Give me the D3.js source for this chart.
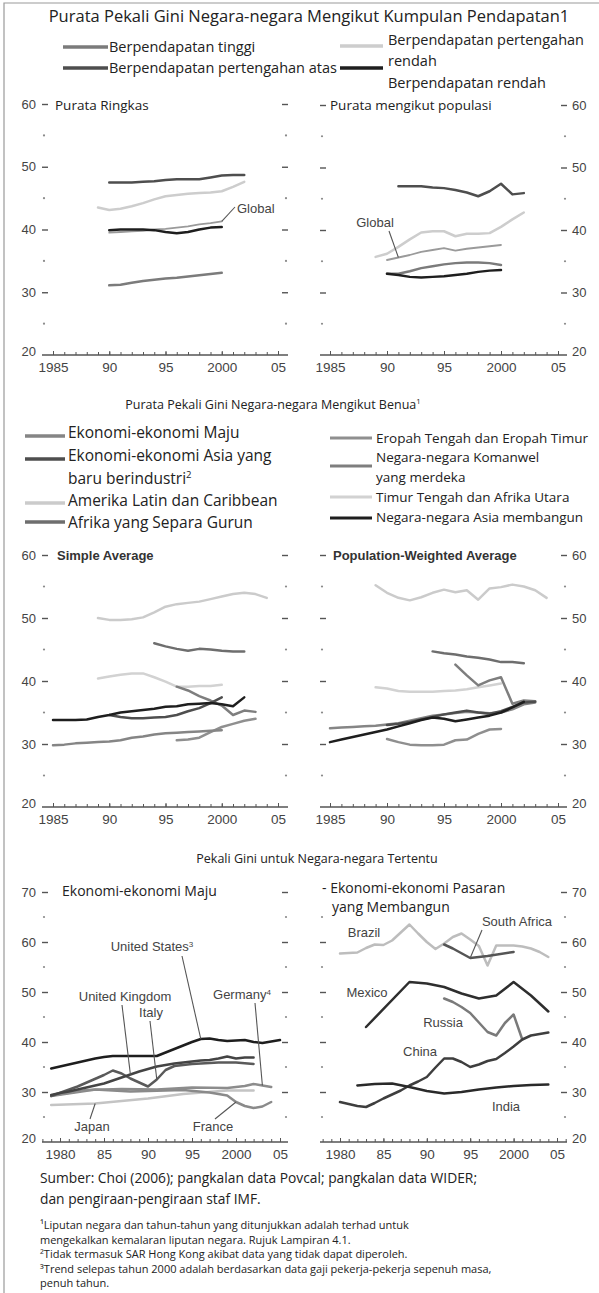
<!DOCTYPE html>
<html>
<head>
<meta charset="utf-8">
<script src="https://cdn.jsdelivr.net/npm/d3@7"></script>
<style>
  body { margin: 0; background: #fff; }
  svg { display: block; }
</style>
</head>
<body>
<svg id="chart" width="599" height="1293"></svg>
<script>
// ---- axis ticks / labels ----
const topTickYears = [1985, 1990, 1995, 2000, 2005];
const topTickLabels = ["1985", "90", "95", "2000", "05"];
const ctryTickYears = [1980, 1985, 1990, 1995, 2000, 2005];
const ctryTickLabels = ["1980", "85", "90", "95", "2000", "05"];
const giniMajor = [20, 30, 40, 50, 60];
const giniMinor = [25, 35, 45, 55];
const ctryMajor = [20, 30, 40, 50, 60, 70];
const ctryMinor = [25, 35, 45, 55, 65];

// ---- income groups, simple average ----
const incYears90_02 = [1990, 1991, 1992, 1993, 1994, 1995, 1996, 1997, 1998, 1999, 2000, 2001, 2002];
const incYears89_02 = [1989, 1990, 1991, 1992, 1993, 1994, 1995, 1996, 1997, 1998, 1999, 2000, 2001, 2002];
const incYears90_00 = [1990, 1991, 1992, 1993, 1994, 1995, 1996, 1997, 1998, 1999, 2000];
const incYears91_02 = [1991, 1992, 1993, 1994, 1995, 1996, 1997, 1998, 1999, 2000, 2001, 2002];
const upperMidS = [47.5, 47.5, 47.5, 47.6, 47.7, 47.9, 48.0, 48.0, 48.0, 48.3, 48.6, 48.7, 48.7];
const lowerMidS = [43.5, 43.1, 43.3, 43.7, 44.2, 44.8, 45.3, 45.5, 45.7, 45.8, 45.9, 46.1, 46.8, 47.6];
const lowIncS = [39.9, 40.0, 40.0, 40.0, 39.9, 39.6, 39.4, 39.6, 40.0, 40.3, 40.4];
const globalS = [39.5, 39.6, 39.7, 39.8, 40.0, 40.1, 40.3, 40.5, 40.8, 41.0, 41.3];
const highIncS = [31.1, 31.2, 31.5, 31.8, 32.0, 32.2, 32.3, 32.5, 32.7, 32.9, 33.1];
// ---- income groups, population weighted ----
const upperMidP = [47.0, 47.0, 47.0, 46.8, 46.7, 46.4, 46.0, 45.4, 46.2, 47.4, 45.7, 45.9];
const lowerMidP = [35.7, 36.2, 37.3, 38.5, 39.6, 39.8, 39.8, 39.0, 39.4, 39.4, 39.5, 40.5, 41.7, 42.8];
const globalP = [35.2, 35.6, 36.0, 36.5, 36.8, 37.1, 36.7, 37.0, 37.2, 37.4, 37.6];
const highIncP = [33.0, 33.0, 33.4, 33.9, 34.2, 34.5, 34.7, 34.8, 34.8, 34.7, 34.4];
const lowIncP = [33.0, 32.8, 32.5, 32.4, 32.5, 32.6, 32.8, 33.0, 33.3, 33.5, 33.6];

// ---- regions ----
const regYears85_00 = [1985, 1986, 1987, 1988, 1989, 1990, 1991, 1992, 1993, 1994, 1995, 1996, 1997, 1998, 1999, 2000];
const regYears85_02 = [1985, 1986, 1987, 1988, 1989, 1990, 1991, 1992, 1993, 1994, 1995, 1996, 1997, 1998, 1999, 2000, 2001, 2002];
const regYears85_03 = [1985, 1986, 1987, 1988, 1989, 1990, 1991, 1992, 1993, 1994, 1995, 1996, 1997, 1998, 1999, 2000, 2001, 2002, 2003];
const regYears89_04 = [1989, 1990, 1991, 1992, 1993, 1994, 1995, 1996, 1997, 1998, 1999, 2000, 2001, 2002, 2003, 2004];
const regYears89_00 = [1989, 1990, 1991, 1992, 1993, 1994, 1995, 1996, 1997, 1998, 1999, 2000];
const regYears94_02 = [1994, 1995, 1996, 1997, 1998, 1999, 2000, 2001, 2002];
const regYears96_03 = [1996, 1997, 1998, 1999, 2000, 2001, 2002, 2003];
const regYears90_00 = [1990, 1991, 1992, 1993, 1994, 1995, 1996, 1997, 1998, 1999, 2000];
const regYears90_03 = [1990, 1991, 1992, 1993, 1994, 1995, 1996, 1997, 1998, 1999, 2000, 2001, 2002, 2003];
// simple average
const advS = [29.8, 29.9, 30.1, 30.2, 30.3, 30.4, 30.6, 31.0, 31.2, 31.5, 31.7, 31.8, 31.9, 32.0, 32.1, 32.2];
const asiaS = [33.8, 33.8, 33.8, 33.9, 34.3, 34.6, 35.0, 35.2, 35.4, 35.6, 35.9, 36.0, 36.3, 36.4, 36.5, 36.3, 36.0, 37.4];
const nieS = [34.6, 34.3, 34.1, 34.1, 34.2, 34.3, 34.6, 35.2, 35.7, 36.5, 37.4];
const lacS = [50.0, 49.7, 49.7, 49.8, 50.1, 50.9, 51.8, 52.2, 52.4, 52.6, 53.0, 53.4, 53.8, 54.0, 53.8, 53.2];
const ssaS = [46.0, 45.5, 45.1, 44.8, 45.1, 45.0, 44.8, 44.7, 44.7];
const ceeS = [30.6, 30.7, 31.0, 31.9, 32.7, 33.2, 33.7, 34.0];
const cisS = [39.1, 38.5, 37.6, 36.9, 36.1, 34.6, 35.3, 35.1];
const menaS = [40.4, 40.7, 41.0, 41.2, 41.2, 40.6, 39.9, 39.1, 39.1, 39.2, 39.2, 39.4];
// population weighted
const advP = [32.5, 32.6, 32.7, 32.8, 32.9, 33.1, 33.3, 33.7, 34.1, 34.5, 34.7, 34.9, 35.1, 35.0, 34.9, 35.0, 35.5, 36.3, 36.6];
const asiaP = [30.3, 30.7, 31.1, 31.5, 31.9, 32.3, 32.8, 33.3, 33.8, 34.2, 34.0, 33.6, 33.9, 34.2, 34.5, 35.0, 35.8, 36.7];
const nieP = [33.0, 33.2, 33.5, 33.9, 34.3, 34.7, 35.0, 35.3, 35.0, 34.8, 35.2, 35.9, 36.6, 36.7];
const lacP = [55.2, 54.0, 53.2, 52.8, 53.3, 54.0, 54.5, 54.1, 54.4, 52.9, 54.7, 54.9, 55.3, 55.0, 54.4, 53.2];
const ssaP = [44.7, 44.4, 44.2, 43.9, 43.7, 43.4, 43.0, 43.0, 42.8];
const ceeP = [30.8, 30.3, 29.9, 29.8, 29.8, 29.9, 30.6, 30.7, 31.6, 32.3, 32.4];
const cisP = [42.6, 40.9, 39.3, 40.1, 40.6, 36.4, 36.9, 36.8];
const menaP = [39.0, 38.8, 38.4, 38.3, 38.3, 38.3, 38.4, 38.5, 38.7, 39.0, 39.3, 39.6];

// ---- selected countries: advanced ----
const usYears = [1979, 1980, 1981, 1982, 1983, 1984, 1985, 1986, 1987, 1988, 1989, 1990, 1991, 1992, 1993, 1994, 1995, 1996, 1997, 1998, 1999, 2000, 2001, 2002, 2003, 2004, 2005];
const usGini = [34.7, 35.1, 35.5, 35.9, 36.3, 36.7, 37.0, 37.2, 37.2, 37.2, 37.2, 37.2, 37.2, 37.9, 38.6, 39.3, 40.0, 40.6, 40.7, 40.4, 40.2, 40.3, 40.4, 40.0, 39.8, 40.1, 40.4];
const ukYears = [1979, 1980, 1981, 1982, 1983, 1984, 1985, 1986, 1987, 1988, 1989, 1990, 1991, 1992, 1993, 1994, 1995, 1996, 1997, 1998, 1999, 2000, 2001, 2002];
const ukGini = [29.4, 29.8, 30.1, 30.5, 30.9, 31.3, 31.7, 32.3, 32.9, 33.5, 34.1, 34.6, 35.1, 35.4, 35.7, 35.9, 36.1, 36.3, 36.4, 36.7, 37.1, 36.7, 36.9, 36.9];
const italyYears = [1979, 1982, 1985, 1986, 1987, 1988, 1989, 1990, 1991, 1992, 1993, 1995, 1998, 2000, 2002];
const italyGini = [29.2, 31.1, 33.4, 34.3, 33.7, 32.7, 31.9, 31.1, 32.5, 34.4, 35.2, 35.6, 35.9, 35.9, 35.6];
const germanyYears = [1979, 1983, 1987, 1991, 1995, 1999, 2001, 2002, 2003, 2004];
const germanyGini = [29.3, 30.4, 30.6, 30.5, 30.9, 30.8, 31.2, 31.6, 31.3, 31.0];
const franceYears = [1979, 1984, 1988, 1994, 1997, 1999, 2000, 2001, 2002, 2003, 2004];
const franceGini = [29.2, 30.5, 30.1, 30.4, 29.9, 29.3, 28.0, 27.2, 26.8, 27.1, 28.0];
const japanYears = [1979, 1984, 1990, 1994, 1999, 2002];
const japanGini = [27.4, 27.7, 28.7, 29.6, 30.3, 30.3];
// ---- selected countries: emerging ----
const brazilYears = [1980, 1981, 1982, 1983, 1984, 1985, 1986, 1987, 1988, 1989, 1990, 1991, 1992, 1993, 1994, 1995, 1996, 1997, 1998, 1999, 2000, 2001, 2002, 2003, 2004];
const brazilGini = [57.7, 57.8, 57.9, 58.8, 59.5, 59.4, 60.3, 61.9, 63.5, 61.7, 60.0, 58.6, 59.7, 61.0, 61.7, 60.5, 59.2, 55.3, 59.3, 59.3, 59.3, 59.1, 58.7, 58.0, 57.0];
const southAfricaYears = [1992, 1993, 1995, 1997, 2000];
const southAfricaGini = [59.5, 58.7, 56.8, 57.2, 58.0];
const mexicoYears = [1983, 1988, 1990, 1992, 1994, 1996, 1998, 2000, 2002, 2004];
const mexicoGini = [43.0, 52.0, 51.7, 51.0, 49.7, 48.7, 49.3, 52.0, 49.3, 46.1];
const russiaYears = [1992, 1993, 1994, 1995, 1996, 1997, 1998, 1999, 2000, 2001];
const russiaGini = [48.7, 48.0, 47.0, 45.8, 43.9, 42.0, 41.3, 43.8, 45.5, 40.5];
const chinaYears = [1980, 1981, 1982, 1983, 1984, 1985, 1986, 1987, 1988, 1989, 1990, 1991, 1992, 1993, 1994, 1995, 1996, 1997, 1998, 1999, 2000, 2001, 2002, 2003, 2004];
const chinaGini = [28.0, 27.6, 27.2, 27.0, 27.8, 28.7, 29.5, 30.3, 31.3, 32.1, 33.0, 34.9, 36.7, 36.7, 36.0, 35.0, 35.5, 36.2, 36.6, 37.8, 39.1, 40.5, 41.3, 41.6, 41.9];
const indiaYears = [1982, 1984, 1986, 1988, 1990, 1992, 1994, 1996, 1998, 2000, 2002, 2004];
const indiaGini = [31.3, 31.6, 31.7, 31.0, 30.2, 29.7, 30.0, 30.5, 30.9, 31.2, 31.4, 31.5];

// ---- colours (greyscale scan) ----
const cHigh = "#7b7b7b", cUpper = "#4e4e4e", cLower = "#cdcdcd", cLow = "#1e1e1e", cGlobal = "#9a9a9a";
const cAdv = "#858585", cNie = "#4e4e4e", cLac = "#cbcbcb", cSsa = "#6e6e6e", cCee = "#8f8f8f",
      cCis = "#7e7e7e", cMena = "#d2d2d2", cAsia = "#1e1e1e";

const FONT = '"Open Sans", "Noto Sans", sans-serif';
const AXFONT = '"Liberation Sans", Arial, sans-serif';
const svg = d3.select("#chart");

function txt(parent, str, x, y, size, opts) {
    opts = opts || {};
    return parent.append("text")
        .attr("x", x).attr("y", y)
        .attr("font-family", opts.family || FONT)
        .attr("font-size", size)
        .attr("font-weight", opts.weight || "normal")
        .attr("text-anchor", opts.anchor || "start")
        .attr("fill", opts.fill || "#222")
        .text(str);
}

function sup(t, s) {
    t.append("tspan").attr("baseline-shift", "super").attr("font-size", "62%").text(s);
    return t;
}

function drawPanel(p) {
    var g = svg.append("g");
    var x = d3.scaleLinear().domain(p.xDomain).range(p.xRange),
        y = d3.scaleLinear().domain(p.yDomain).range(p.yRange),
        base = y(p.yDomain[0]);

    // half-step dots on both sides
    g.selectAll("circle")
        .data(p.yMinor.flatMap(v => [[p.axisL + 2, v], [p.axisR - 2, v]]))
      .enter().append("circle")
        .attr("cx", d => d[0]).attr("cy", d => y(d[1]))
        .attr("r", 1.1).attr("fill", "#8a8a8a");

    var majors = p.yMajor.filter(v => v != p.yDomain[0]);
    var leftVals = p.skipTopLeft ? majors.slice(0, -1) : majors;
    var yl = g.append("g").attr("transform", "translate(" + (p.axisL + 6) + ",0)")
        .call(d3.axisLeft(y).tickValues(leftVals).tickSize(6).tickPadding(6)
            .tickFormat(p.labelSide == "left" ? d3.format("d") : ""));
    var yr = g.append("g").attr("transform", "translate(" + (p.axisR - 6) + ",0)")
        .call(d3.axisRight(y).tickValues(majors).tickSize(6).tickPadding(5)
            .tickFormat(p.labelSide == "right" ? d3.format("d") : ""));
    [yl, yr].forEach(a => {
        a.select(".domain").remove();
        a.selectAll("line").attr("stroke", "#555").attr("stroke-width", 1.4);
        a.selectAll("text").attr("font-family", AXFONT).attr("font-size", 13).attr("fill", "#444");
    });
    // the bottom value sits beside the baseline
    var lx = p.labelSide == "left" ? p.axisL - 6 : p.axisR + 5;
    txt(g, d3.format("d")(p.yDomain[0]), lx, base + 1, 13,
        { family: AXFONT, fill: "#444", anchor: p.labelSide == "left" ? "end" : "start" });

    // x axis
    g.append("line")
        .attr("x1", p.axisL).attr("x2", p.axisR).attr("y1", base).attr("y2", base)
        .attr("stroke", "#555").attr("stroke-width", 1.3);
    var years = d3.range(Math.ceil(x.invert(p.axisL)), Math.floor(x.invert(p.axisR)) + 1);
    var xm = g.append("g").attr("transform", "translate(0," + base + ")")
        .call(d3.axisBottom(x).tickValues(years).tickSizeInner(-3).tickSizeOuter(0).tickFormat(""));
    var xa = g.append("g").attr("transform", "translate(0," + base + ")")
        .call(d3.axisBottom(x).tickValues(p.tickYears).tickSizeInner(-4).tickSizeOuter(0).tickPadding(7)
            .tickFormat((d, i) => p.tickLabels[i]));
    [xm, xa].forEach(a => {
        a.select(".domain").remove();
        a.selectAll("line").attr("stroke", "#555");
    });
    xa.selectAll("text").attr("font-family", AXFONT).attr("font-size", 13.5).attr("fill", "#444");

    // series
    var line = d3.line();
    g.selectAll("path.series")
        .data(p.series)
      .enter().append("path")
        .attr("class", "series")
        .attr("fill", "none")
        .attr("stroke", d => d.color)
        .attr("stroke-width", d => d.width || 2.5)
        .attr("stroke-linejoin", "round")
        .attr("stroke-linecap", "round")
        .attr("d", d => line(d.years.map((yr, i) => [x(yr), y(d.values[i])])));

    // annotations
    (p.notes || []).forEach(n => {
        if (n.to) {
            var i = n.to.s.years.indexOf(n.to.year);
            g.append("line")
                .attr("x1", n.lx).attr("y1", n.ly)
                .attr("x2", x(n.to.year)).attr("y2", y(n.to.s.values[i]))
                .attr("stroke", "#555").attr("stroke-width", 1.1);
        }
        var t = txt(g, n.text, n.x, n.y, n.size || 13,
            { family: AXFONT, fill: "#444", anchor: n.anchor || "middle" });
        if (n.sup) sup(t, n.sup);
    });

    // panel titles
    (p.titles || []).forEach(t => {
        txt(g, t.text, t.x, t.y, t.size, { family: t.family, weight: t.weight, fill: t.fill || "#222" });
    });
}

// ---- frame ----
svg.append("path").attr("d", "M4,1293V3H599")
    .attr("fill", "none").attr("stroke", "#9a9a9a").attr("stroke-width", 1.2);

// ---- section 1: income groups ----
txt(svg, "Purata Pekali Gini Negara-negara Mengikut Kumpulan Pendapatan1", 309, 22, 16.5, { anchor: "middle" });

function legendLine(x1, x2, yy, color, w) {
    svg.append("line").attr("x1", x1).attr("x2", x2).attr("y1", yy).attr("y2", yy)
        .attr("stroke", color).attr("stroke-width", w || 3.5);
}
legendLine(63, 108, 47, cHigh);
txt(svg, "Berpendapatan tinggi", 109, 52, 14.5);
legendLine(63, 108, 68, cUpper);
txt(svg, "Berpendapatan pertengahan atas", 109, 73, 14.5);
legendLine(340, 383, 46, cLower);
txt(svg, "Berpendapatan pertengahan", 388, 45, 14.5);
txt(svg, "rendah", 388, 66, 14.5);
legendLine(340, 383, 68, cLow);
txt(svg, "Berpendapatan rendah", 388, 88, 14.5);

var sHighS = { years: incYears90_00, values: highIncS, color: cHigh },
    sGlobalS = { years: incYears90_00, values: globalS, color: cGlobal, width: 1.8 },
    sGlobalP = { years: incYears90_00, values: globalP, color: cGlobal, width: 1.8 };

drawPanel({
    xDomain: [1985, 2005], xRange: [53, 278], yDomain: [20, 60], yRange: [355, 104],
    axisL: 42, axisR: 288, labelSide: "left", yMajor: giniMajor, yMinor: giniMinor,
    tickYears: topTickYears, tickLabels: topTickLabels,
    series: [
        { years: incYears89_02, values: lowerMidS, color: cLower },
        sGlobalS,
        { years: incYears90_02, values: upperMidS, color: cUpper },
        { years: incYears90_00, values: lowIncS, color: cLow },
        sHighS
    ],
    notes: [{ text: "Global", x: 237, y: 213, anchor: "start", lx: 235, ly: 207, to: { s: sGlobalS, year: 2000 } }],
    titles: [{ text: "Purata Ringkas", x: 55, y: 110, size: 13.5 }]
});

drawPanel({
    xDomain: [1985, 2005], xRange: [330, 558], yDomain: [20, 60], yRange: [355, 105],
    axisL: 320, axisR: 567, labelSide: "right", yMajor: giniMajor, yMinor: giniMinor,
    tickYears: topTickYears, tickLabels: topTickLabels,
    series: [
        { years: incYears89_02, values: lowerMidP, color: cLower },
        sGlobalP,
        { years: incYears91_02, values: upperMidP, color: cUpper },
        { years: incYears90_00, values: highIncP, color: cHigh },
        { years: incYears90_00, values: lowIncP, color: cLow }
    ],
    notes: [{ text: "Global", x: 375, y: 227, lx: 389, ly: 231, to: { s: sGlobalP, year: 1991 } }],
    titles: [{ text: "Purata mengikut populasi", x: 330, y: 110, size: 13.5 }]
});

// ---- section 2: regions ----
sup(txt(svg, "Purata Pekali Gini Negara-negara Mengikut Benua", 273, 409, 12.5, { anchor: "middle" }), "1");

legendLine(25, 65, 436, cAdv);
txt(svg, "Ekonomi-ekonomi Maju", 68, 438, 15.5);
legendLine(25, 65, 459, cNie);
txt(svg, "Ekonomi-ekonomi Asia yang", 68, 461, 15.5);
sup(txt(svg, "baru berindustri", 68, 484, 15.5), "2");
legendLine(25, 65, 503, cLac);
txt(svg, "Amerika Latin dan Caribbean", 68, 506, 15.5);
legendLine(25, 65, 522, cSsa);
txt(svg, "Afrika yang Separa Gurun", 68, 528, 15.5);

legendLine(330, 372, 438, cCee, 3);
txt(svg, "Eropah Tengah dan Eropah Timur", 376, 443, 13.5);
legendLine(330, 372, 466, cCis, 3);
txt(svg, "Negara-negara Komanwel", 376, 462, 13.5);
txt(svg, "yang merdeka", 376, 482, 13.5);
legendLine(330, 372, 497, cMena, 3);
txt(svg, "Timur Tengah dan Afrika Utara", 376, 502, 13.5);
legendLine(330, 372, 518, cAsia, 3);
txt(svg, "Negara-negara Asia membangun", 376, 522, 13.5);

drawPanel({
    xDomain: [1985, 2005], xRange: [53, 278], yDomain: [20, 60], yRange: [807, 555],
    axisL: 42, axisR: 288, labelSide: "left", yMajor: giniMajor, yMinor: giniMinor,
    tickYears: topTickYears, tickLabels: topTickLabels,
    series: [
        { years: regYears89_04, values: lacS, color: cLac },
        { years: regYears89_00, values: menaS, color: cMena },
        { years: regYears94_02, values: ssaS, color: cSsa },
        { years: regYears96_03, values: cisS, color: cCis },
        { years: regYears96_03, values: ceeS, color: cCee },
        { years: regYears85_00, values: advS, color: cAdv },
        { years: regYears90_00, values: nieS, color: cNie },
        { years: regYears85_02, values: asiaS, color: cAsia }
    ],
    titles: [{ text: "Simple Average", x: 57, y: 560, size: 13, family: AXFONT, weight: "bold", fill: "#333" }]
});

drawPanel({
    xDomain: [1985, 2005], xRange: [330, 558], yDomain: [20, 60], yRange: [807, 555],
    axisL: 320, axisR: 567, labelSide: "right", yMajor: giniMajor, yMinor: giniMinor,
    tickYears: topTickYears, tickLabels: topTickLabels,
    series: [
        { years: regYears89_04, values: lacP, color: cLac },
        { years: regYears89_00, values: menaP, color: cMena },
        { years: regYears94_02, values: ssaP, color: cSsa },
        { years: regYears96_03, values: cisP, color: cCis },
        { years: regYears90_00, values: ceeP, color: cCee },
        { years: regYears85_03, values: advP, color: cAdv },
        { years: regYears90_03, values: nieP, color: cNie },
        { years: regYears85_02, values: asiaP, color: cAsia }
    ],
    titles: [{ text: "Population-Weighted Average", x: 333, y: 560, size: 13, family: AXFONT, weight: "bold", fill: "#333" }]
});

// ---- section 3: selected countries ----
txt(svg, "Pekali Gini untuk Negara-negara Tertentu", 317, 863, 12.5, { anchor: "middle" });

var sUS = { years: usYears, values: usGini, color: "#1e1e1e" },
    sUK = { years: ukYears, values: ukGini, color: "#444" },
    sItaly = { years: italyYears, values: italyGini, color: "#5a5a5a" },
    sGermany = { years: germanyYears, values: germanyGini, color: "#8c8c8c" },
    sFrance = { years: franceYears, values: franceGini, color: "#8a8a8a" },
    sJapan = { years: japanYears, values: japanGini, color: "#c4c4c4" },
    sBrazil = { years: brazilYears, values: brazilGini, color: "#bdbdbd" },
    sSouthAfrica = { years: southAfricaYears, values: southAfricaGini, color: "#555" },
    sMexico = { years: mexicoYears, values: mexicoGini, color: "#2e2e2e" },
    sRussia = { years: russiaYears, values: russiaGini, color: "#7a7a7a" },
    sChina = { years: chinaYears, values: chinaGini, color: "#3e3e3e" },
    sIndia = { years: indiaYears, values: indiaGini, color: "#2a2a2a" };

drawPanel({
    xDomain: [1980, 2005], xRange: [60, 280], yDomain: [20, 70], yRange: [1142, 892],
    axisL: 42, axisR: 288, labelSide: "left", yMajor: ctryMajor, yMinor: ctryMinor,
    tickYears: ctryTickYears, tickLabels: ctryTickLabels,
    series: [sJapan, sFrance, sGermany, sItaly, sUK, sUS],
    notes: [
        { text: "United States", sup: "3", x: 152, y: 951, lx: 182, ly: 956, to: { s: sUS, year: 1996 } },
        { text: "United Kingdom", x: 125, y: 1001, lx: 122, ly: 1005, to: { s: sUK, year: 1988 } },
        { text: "Italy", x: 151, y: 1017, lx: 150, ly: 1021, to: { s: sItaly, year: 1991 } },
        { text: "Germany", sup: "4", x: 242, y: 999, lx: 255, ly: 1003, to: { s: sGermany, year: 2003 } },
        { text: "Japan", x: 92, y: 1131, lx: 90, ly: 1119, to: { s: sJapan, year: 1984 } },
        { text: "France", x: 213, y: 1131, lx: 215, ly: 1119, to: { s: sFrance, year: 2000 } }
    ],
    titles: [{ text: "Ekonomi-ekonomi Maju", x: 62, y: 896, size: 14 }]
});

drawPanel({
    xDomain: [1980, 2005], xRange: [340, 557], yDomain: [20, 70], yRange: [1142, 892],
    axisL: 320, axisR: 567, labelSide: "right", yMajor: ctryMajor, yMinor: ctryMinor, skipTopLeft: true,
    tickYears: ctryTickYears, tickLabels: ctryTickLabels,
    series: [sBrazil, sSouthAfrica, sMexico, sRussia, sChina, sIndia],
    notes: [
        { text: "Brazil", x: 364, y: 937 },
        { text: "South Africa", x: 517, y: 926, lx: 482, ly: 930, to: { s: sSouthAfrica, year: 1995 } },
        { text: "Mexico", x: 367, y: 997 },
        { text: "Russia", x: 443, y: 1027 },
        { text: "China", x: 420, y: 1056 },
        { text: "India", x: 506, y: 1111 }
    ],
    titles: [
        { text: "- Ekonomi-ekonomi Pasaran", x: 322, y: 893, size: 14 },
        { text: "yang Membangun", x: 332, y: 912, size: 14 }
    ]
});

// ---- source and notes ----
txt(svg, "Sumber: Choi (2006); pangkalan data Povcal; pangkalan data WIDER;", 40, 1183, 13.8);
txt(svg, "dan pengiraan-pengiraan staf IMF.", 40, 1204, 13.8);
var notes = [
    "\u00b9Liputan negara dan tahun-tahun yang ditunjukkan adalah terhad untuk",
    "mengekalkan kemalaran liputan negara. Rujuk Lampiran 4.1.",
    "\u00b2Tidak termasuk SAR Hong Kong akibat data yang tidak dapat diperoleh.",
    "\u00b3Trend selepas tahun 2000 adalah berdasarkan data gaji pekerja-pekerja sepenuh masa,",
    "penuh tahun."
];
svg.selectAll("text.fn")
    .data(notes)
  .enter().append("text")
    .attr("class", "fn")
    .attr("x", 40)
    .attr("y", (d, i) => 1229 + i * 14.5)
    .attr("font-family", FONT)
    .attr("font-size", 11)
    .attr("fill", "#222")
    .text(d => d);
</script>
</body>
</html>
